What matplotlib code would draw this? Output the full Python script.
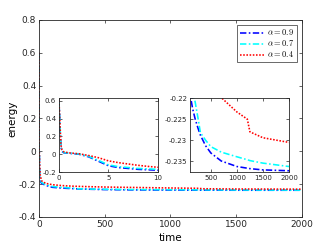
import numpy as np
import matplotlib
matplotlib.use("agg")
import matplotlib.pyplot as plt

plt.rcParams["mathtext.fontset"] = "cm"

# time samples (shared by all three series)
t = [0, 0.1, 0.2, 0.3, 0.5, 1, 2, 3, 4, 5, 6, 7, 8, 9, 10, 20, 50,
     100, 150, 200, 250, 300, 400, 500, 700, 1000, 1200, 1250, 1500, 2000]

e_09 = [0.6, 0.3, 0.08, 0.03, 0.015, 0.01, 0.0, -0.03, -0.08, -0.13, -0.15, -0.16,
        -0.17, -0.175, -0.18, -0.195, -0.207,
        -0.219, -0.2225, -0.2250, -0.2270, -0.2288, -0.2313, -0.2330, -0.2349, -0.2362,
        -0.2366, -0.2367, -0.2370, -0.2372]
e_07 = [0.6, 0.32, 0.09, 0.035, 0.018, 0.012, 0.002, -0.025, -0.07, -0.12, -0.14, -0.15,
        -0.16, -0.165, -0.17, -0.19, -0.203,
        -0.214, -0.2185, -0.2210, -0.2245, -0.2282, -0.2300, -0.2315, -0.2328, -0.2339,
        -0.2346, -0.2348, -0.2354, -0.2362]
e_04 = [0.6, 0.34, 0.1, 0.05, 0.025, 0.015, 0.005, -0.015, -0.04, -0.075, -0.095, -0.11,
        -0.125, -0.137, -0.147, -0.18, -0.195,
        -0.203, -0.207, -0.21, -0.212, -0.2135, -0.2157, -0.2175, -0.2199, -0.2233,
        -0.2250, -0.2280, -0.2294, -0.2305]

labels = [r"$\alpha = 0.9$", r"$\alpha = 0.7$", r"$\alpha = 0.4$"]
series = [e_09, e_07, e_04]
styles = [("#0000ff", (0, (4, 1.5, 1, 1.5))), ("#00ffff", (0, (4, 1.5, 1, 1.5))),
          ("#ff0000", (0, (1, 1)))]

ax_col = "#262626"


def style_axes(ax, size):
    ax.tick_params(direction="in", top=True, right=True, labelsize=size,
                   length=2, width=0.5, colors=ax_col, pad=2)
    for s in ax.spines.values():
        s.set_color(ax_col)
        s.set_linewidth(0.6)


def draw(ax):
    for y, (c, ls), lab in zip(series, styles, labels):
        ax.plot(t, y, color=c, linestyle=ls, linewidth=1.15, label=lab)


fig = plt.figure(figsize=(3.29, 2.47), dpi=100)

ax = fig.add_axes([0.1185, 0.1215, 0.7994, 0.7976])
draw(ax)
ax.set_xlim(0, 2000)
ax.set_ylim(-0.4, 0.8)
ax.set_xticks([0, 500, 1000, 1500, 2000])
ax.set_yticks([-0.4, -0.2, 0, 0.2, 0.4, 0.6, 0.8])
ax.set_yticklabels(["-0.4", "-0.2", "0", "0.2", "0.4", "0.6", "0.8"])
style_axes(ax, 6.5)
ax.set_xlabel("time", fontsize=7.5, labelpad=3)
ax.set_ylabel("energy", fontsize=7.5, labelpad=1)
leg = ax.legend(loc="upper right", fontsize=6, frameon=True, fancybox=False,
                handlelength=3.0, handletextpad=0.3, borderpad=0.3,
                labelspacing=0.12, borderaxespad=0.6)
leg.get_frame().set_edgecolor(ax_col)
leg.get_frame().set_linewidth(0.6)

# inset: early times
ax1 = fig.add_axes([0.1793, 0.3036, 0.3009, 0.2996])
draw(ax1)
ax1.set_xlim(0, 10)
ax1.set_ylim(-0.2, 0.63)
ax1.set_xticks([0, 5, 10])
ax1.set_yticks([-0.2, 0, 0.2, 0.4, 0.6])
ax1.set_yticklabels(["-0.2", "0", "0.2", "0.4", "0.6"])
style_axes(ax1, 5)

# inset: late times
ax2 = fig.add_axes([0.5775, 0.3036, 0.3009, 0.2996])
draw(ax2)
ax2.set_xlim(100, 2000)
ax2.set_ylim(-0.2375, -0.22)
ax2.set_xticks([500, 1000, 1500, 2000])
ax2.set_yticks([-0.235, -0.23, -0.225, -0.22])
ax2.set_yticklabels(["-0.235", "-0.23", "-0.225", "-0.22"])
style_axes(ax2, 5)

plt.savefig("out.png", dpi=100)
